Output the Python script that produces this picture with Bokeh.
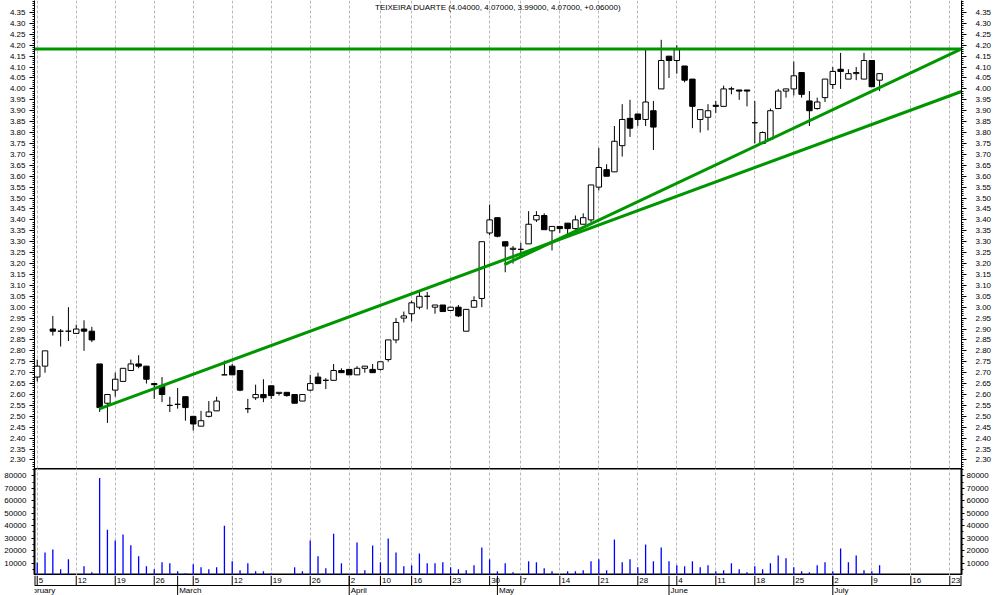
import numpy as np
from bokeh.plotting import figure
from bokeh.layouts import column
from bokeh.models import (LinearAxis, FixedTicker, PrintfTickFormatter, Range1d,
                          Grid, Label, ColumnDataSource)
from bokeh.core.properties import value
from bokeh.embed import file_html
from bokeh.resources import INLINE

# ---------------- data ----------------
title_text = "TEIXEIRA DUARTE (4.04000, 4.07000, 3.99000, 4.07000, +0.06000)"

opens = [2.68, 2.73, 2.90, 2.89, 2.89, 2.88, 2.90, 2.89, 2.74, 2.56,
         2.62, 2.66, 2.71, 2.74, 2.73, 2.65, 2.64, 2.55, 2.555, 2.59,
         2.50, 2.455, 2.50, 2.525, 2.69, 2.73, 2.71, 2.535, 2.585, 2.60,
         2.64, 2.605, 2.61, 2.60, 2.57, 2.62, 2.68, 2.665, 2.665, 2.71,
         2.715, 2.69, 2.72, 2.715, 2.715, 2.76, 2.85, 2.95, 2.97, 3.00,
         3.05, 3.00, 3.01, 2.985, 3.00, 2.89, 3.00, 3.04, 3.34, 3.41,
         3.30, 3.265, 3.265, 3.29, 3.40, 3.42, 3.35, 3.37, 3.385, 3.36,
         3.38, 3.40, 3.55, 3.63, 3.62, 3.74, 3.865, 3.885, 3.86, 3.90,
         4.00, 4.15, 4.13, 4.105, 4.045, 3.86, 3.87, 3.925, 3.92, 4.00,
         3.995, 3.995, 3.845, 3.75, 3.77, 3.91, 3.99, 4.00, 4.075, 3.945,
         3.91, 3.96, 4.02, 4.09, 4.045, 4.07, 4.045, 4.13, 4.04]
highs = [2.76, 2.80, 2.96, 2.90, 3.00, 2.92, 2.94, 2.91, 2.74, 2.60,
         2.70, 2.72, 2.76, 2.78, 2.73, 2.65, 2.68, 2.59, 2.63, 2.59,
         2.50, 2.525, 2.57, 2.59, 2.755, 2.74, 2.71, 2.58, 2.645, 2.67,
         2.64, 2.61, 2.61, 2.60, 2.60, 2.69, 2.70, 2.675, 2.74, 2.72,
         2.715, 2.73, 2.73, 2.74, 2.75, 2.85, 2.95, 2.98, 3.03, 3.07,
         3.07, 3.01, 3.01, 3.00, 3.01, 2.99, 3.05, 3.30, 3.47, 3.41,
         3.30, 3.28, 3.295, 3.44, 3.44, 3.43, 3.37, 3.37, 3.385, 3.42,
         3.43, 3.56, 3.73, 3.655, 3.83, 3.93, 3.95, 3.885, 4.18, 3.945,
         4.225, 4.15, 4.20, 4.105, 4.045, 3.905, 3.93, 3.945, 4.015, 4.01,
         3.995, 3.995, 3.945, 3.805, 3.91, 4.00, 4.00, 4.125, 4.075, 3.99,
         3.96, 4.045, 4.10, 4.165, 4.09, 4.10, 4.165, 4.13, 4.07]
lows = [2.66, 2.70, 2.87, 2.82, 2.845, 2.88, 2.80, 2.84, 2.52, 2.47,
        2.59, 2.66, 2.71, 2.72, 2.65, 2.58, 2.565, 2.52, 2.535, 2.48,
        2.435, 2.455, 2.495, 2.525, 2.69, 2.69, 2.615, 2.515, 2.575, 2.565,
        2.58, 2.595, 2.59, 2.56, 2.57, 2.615, 2.65, 2.625, 2.665, 2.70,
        2.69, 2.69, 2.70, 2.70, 2.71, 2.75, 2.835, 2.93, 2.935, 2.99,
        2.99, 2.97, 2.98, 2.985, 2.955, 2.89, 3.00, 3.00, 3.33, 3.32,
        3.16, 3.20, 3.225, 3.29, 3.39, 3.355, 3.26, 3.34, 3.335, 3.355,
        3.38, 3.39, 3.535, 3.60, 3.62, 3.69, 3.78, 3.83, 3.83, 3.72,
        4.00, 4.05, 4.07, 4.03, 3.82, 3.80, 3.81, 3.89, 3.92, 3.975,
        3.95, 3.92, 3.75, 3.75, 3.765, 3.91, 3.96, 3.97, 3.96, 3.83,
        3.905, 3.94, 4.00, 4.00, 4.045, 4.04, 4.045, 4.01, 3.99]
closes = [2.73, 2.80, 2.89, 2.89, 2.89, 2.90, 2.89, 2.85, 2.54, 2.60,
          2.67, 2.72, 2.74, 2.73, 2.67, 2.645, 2.60, 2.55, 2.555, 2.54,
          2.465, 2.48, 2.52, 2.57, 2.69, 2.69, 2.62, 2.535, 2.60, 2.585,
          2.595, 2.61, 2.595, 2.56, 2.60, 2.65, 2.65, 2.665, 2.71, 2.70,
          2.69, 2.72, 2.73, 2.70, 2.75, 2.85, 2.93, 2.96, 3.02, 3.05,
          3.05, 3.01, 2.98, 3.00, 2.96, 2.99, 3.03, 3.30, 3.40, 3.325,
          3.28, 3.27, 3.265, 3.38, 3.42, 3.355, 3.37, 3.36, 3.36, 3.40,
          3.41, 3.56, 3.64, 3.60, 3.76, 3.86, 3.82, 3.86, 3.94, 3.825,
          4.13, 4.13, 4.18, 4.04, 3.92, 3.905, 3.90, 3.92, 4.00, 4.00,
          3.99, 3.99, 3.845, 3.80, 3.90, 3.99, 4.00, 4.06, 3.975, 3.90,
          3.94, 4.045, 4.08, 4.08, 4.07, 4.075, 4.13, 4.01, 4.07]
volumes = [10500, 18500, 20900, 5000, 13000, 0, 7400, 2600, 78400, 36800,
           28100, 32900, 24400, 15400, 7400, 5000, 10600, 9800, 3400, 1800,
           9000, 6600, 5000, 6600, 40000, 11400, 4200, 9800, 3400, 3400,
           1800, 0, 0, 6600, 3400, 28100, 15400, 5800, 33600, 9800,
           1500, 26500, 4200, 24100, 10600, 29700, 18500, 7400, 8200, 17700,
           9800, 9800, 10600, 6600, 5000, 4200, 8200, 22500, 13000, 3400,
           9800, 2600, 1500, 11400, 10600, 5800, 3400, 1000, 3400, 3400,
           4200, 11400, 13000, 4200, 28900, 10600, 13000, 6600, 24900, 11400,
           22500, 11400, 8200, 7400, 11400, 6600, 8200, 3400, 4200, 9800,
           5000, 2600, 7400, 5000, 9800, 16100, 13800, 6600, 3400, 2600,
           8200, 10600, 3400, 21700, 10600, 16100, 4200, 3400, 8200]

# week-start trading-day positions and their day labels
week_idx = [0, 5, 10, 15, 20, 25, 30, 35, 40, 44, 48, 53, 58, 62, 67, 72,
            77, 82, 87, 92, 97, 102, 107, 112, 117]
week_labels = ["5", "12", "19", "26", "5", "12", "19", "26", "2", "10", "16",
               "23", "30", "7", "14", "21", "28", "4", "11", "18", "25", "2",
               "9", "16", "23"]
# month-start trading-day positions
month_idx = [-2, 18, 40, 59, 81, 102]
month_labels = ["February", "March", "April", "May", "June", "July"]

# trend lines (trading-day index, price)
resistance_level = 4.183
support_long_x = [7.95, 118.5]
support_long_y = [2.534, 3.988]
support_short_x = [59.9, 118.3]
support_short_y = [3.195, 4.180]

price_ticks = [round(2.30 + 0.05 * k, 2) for k in range(0, 42)]
price_minor = [round(2.26 + 0.01 * k, 2) for k in range(0, 215)]
vol_ticks = [10000, 20000, 30000, 40000, 50000, 60000, 70000, 80000]
vol_minor = [5000, 15000, 25000, 35000, 45000, 55000, 65000, 75000, 85000]

# ---------------- styling ----------------
W = 994
FONT = "Liberation Sans"
GREEN = "#009600"
GRID = "#b8b8b8"
X_START, X_END = -0.35, 118.5
P_LOW, P_HIGH = 2.261, 4.405
BL, BR = 34, 33

xr = Range1d(X_START, X_END)
idx = list(range(len(opens)))

src = ColumnDataSource(dict(
    x=idx, o=opens, h=highs, l=lows, c=closes,
    top=[max(a, b) for a, b in zip(opens, closes)],
    bottom=[min(a, b) for a, b in zip(opens, closes)],
    fill=["white" if c >= o else "black" for o, c in zip(opens, closes)],
    vol=volumes, zero=[0] * len(volumes),
))


def base_fig(height, y_range, outline=None):
    f = figure(width=W, height=height, x_range=xr, y_range=y_range,
               output_backend="svg", toolbar_location=None,
               x_axis_location=None, y_axis_location=None,
               min_border_left=BL, min_border_right=BR,
               min_border_top=0, min_border_bottom=0,
               background_fill_color="white", border_fill_color="white")
    f.grid.visible = False
    if outline:
        f.outline_line_color = "black"
        f.outline_line_width = outline
    else:
        f.outline_line_color = None
    return f


def add_week_grid(f):
    f.add_layout(Grid(dimension=0, ticker=FixedTicker(ticks=week_idx),
                      grid_line_color=GRID, grid_line_dash="3 2",
                      grid_line_width=1))


def add_y_axes(f, ticks, minor, fmt, size, tick_out, standoffs):
    for side, standoff in zip(("left", "right"), standoffs):
        ax = LinearAxis(ticker=FixedTicker(ticks=ticks, minor_ticks=minor),
                        formatter=PrintfTickFormatter(format=fmt),
                        major_tick_out=tick_out, major_tick_in=0,
                        minor_tick_out=2, minor_tick_in=0,
                        major_label_standoff=standoff,
                        major_label_text_font=FONT,
                        major_label_text_font_size=size,
                        major_label_text_color="black",
                        axis_line_color="black", major_tick_line_color="black",
                        minor_tick_line_color="black")
        f.add_layout(ax, side)


# ---------------- price panel ----------------
p = base_fig(468, Range1d(P_LOW, P_HIGH))
add_week_grid(p)
add_y_axes(p, price_ticks, price_minor, "%.2f", "8px", 5, (4, 9))

p.segment(x0="x", y0="l", x1="x", y1="h", source=src, line_color="black",
          line_width=1)
p.vbar(x="x", width=0.7, top="top", bottom="bottom", source=src,
       fill_color="fill", line_color="black", line_width=1)

p.line([X_START - 1, X_END + 1], [resistance_level, resistance_level],
       line_color=GREEN, line_width=3)
p.line(support_long_x, support_long_y, line_color=GREEN, line_width=3)
p.line(support_short_x, support_short_y, line_color=GREEN, line_width=3)

p.add_layout(Label(x=(X_START + X_END) / 2, y=P_HIGH - 0.031, text=title_text,
                   text_align="center", text_baseline="middle",
                   text_font=FONT, text_font_size="8px", text_color="black"))

# ---------------- volume panel ----------------
v = base_fig(107, Range1d(0, 86000), outline=2)
add_week_grid(v)
add_y_axes(v, vol_ticks, vol_minor, "%d", "8px", 3, (5, 2))
v.segment(x0="x", y0="zero", x1="x", y1="vol", source=src,
          line_color="#0000ff", line_width=1.3)

# ---------------- date rows ----------------
a = base_fig(20, Range1d(0, 2))
a.segment(x0=[X_START, X_END], y0=[1, 1], x1=[X_START, X_END], y1=[2, 2],
          line_color="black", line_width=2)
a.segment(x0=[X_START], y0=[1], x1=[X_END], y1=[1], line_color="black",
          line_width=1)
a.segment(x0=week_idx, y0=[1] * len(week_idx), x1=week_idx,
          y1=[2] * len(week_idx), line_color="black", line_width=1)
a.segment(x0=month_idx, y0=[0] * len(month_idx), x1=month_idx,
          y1=[2] * len(month_idx), line_color="black", line_width=1)
a.text(x=[w + 0.2 for w in week_idx], y=[1.5] * len(week_idx), text=week_labels,
       text_align="left", text_baseline="middle", text_font=value(FONT),
       text_font_size="8px", text_color="black")
a.text(x=[m + 0.2 for m in month_idx], y=[0.5] * len(month_idx),
       text=month_labels, text_align="left", text_baseline="middle",
       text_font=value(FONT), text_font_size="8px", text_color="black")

layout = column(p, v, a, spacing=0)
open("out.html", "w").write(file_html(layout, INLINE))
